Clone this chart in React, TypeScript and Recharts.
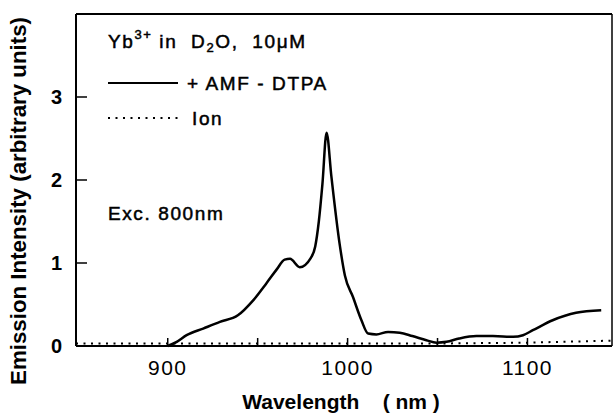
import React from 'react';
import { ComposedChart, Line, XAxis, YAxis, ReferenceLine, Customized } from 'recharts';

const wavelengthsComplex = [900, 905, 910.5, 919.7, 929, 939, 947.5, 955, 960.5, 965, 968, 973.4, 979.5, 982, 984, 986, 988.3, 991, 995.5, 998.5, 1003, 1007.7, 1011.4, 1016, 1022.5, 1029, 1036, 1043.8, 1049.4, 1055, 1062, 1071.6, 1080.8, 1092, 1097.5, 1103, 1114, 1127, 1141];
const intensityComplex = [0, 0.05, 0.13, 0.21, 0.29, 0.37, 0.55, 0.76, 0.92, 1.04, 1.05, 0.95, 1.06, 1.2, 1.5, 1.95, 2.57, 2.04, 1.24, 0.85, 0.59, 0.31, 0.15, 0.14, 0.17, 0.16, 0.12, 0.07, 0.04, 0.05, 0.09, 0.12, 0.12, 0.11, 0.13, 0.19, 0.31, 0.4, 0.43];

const wavelengthsIon = [849, 900, 950, 1000, 1050, 1100, 1147];
const intensityIon = [0.03, 0.03, 0.03, 0.03, 0.03, 0.04, 0.065];

const xTicks = [900, 950, 1000, 1050, 1100];
const xTickLabels: Record<number, string> = { 900: '900', 950: '', 1000: '1000', 1050: '', 1100: '1100' };
const yTicks = [0, 1, 2, 3];

const complexData = wavelengthsComplex.map((w, i) => ({ w, v: intensityComplex[i] }));
const ionData = wavelengthsIon.map((w, i) => ({ w, v: intensityIon[i] }));

const FONT = '"Liberation Sans", Arial, sans-serif';
const TXT = { fontSize: 19, letterSpacing: 1.6, whiteSpace: 'pre' as const };

const Annotations = () => (
  <g fontFamily={FONT} fill="#000" stroke="#000" strokeWidth={0.5}>
    <text x={108} y={48} style={TXT}>
      Yb<tspan dy={-9} fontSize={13}>3+</tspan>
      <tspan dy={9}>{' in  D'}</tspan>
      <tspan dy={4} fontSize={13}>2</tspan>
      <tspan dy={-4}>{'O,  10μM'}</tspan>
    </text>
    <line x1={108} y1={83} x2={178} y2={83} stroke="#000" strokeWidth={2} />
    <text x={187} y={90} style={TXT}>+ AMF - DTPA</text>
    <line x1={108} y1={118} x2={182} y2={118} stroke="#000" strokeWidth={2} strokeDasharray="2 5.5" />
    <text x={192} y={125} style={TXT}>Ion</text>
    <text x={108} y={220} style={TXT}>Exc. 800nm</text>
  </g>
);

export default function App() {
  return (
    <div style={{ width: 613, height: 420, background: '#fff' }}>
      <style>{'body{margin:0;}'}</style>
      <ComposedChart width={613} height={420} margin={{ top: 14, right: 1, bottom: 0, left: 0 }} style={{ fontFamily: FONT }}>
        <XAxis
          dataKey="w"
          type="number"
          domain={[849, 1147]}
          ticks={xTicks}
          tickFormatter={(v: number) => xTickLabels[v] ?? ''}
          allowDataOverflow
          height={74}
          axisLine={{ stroke: '#000', strokeWidth: 2 }}
          tickLine={{ stroke: '#000', strokeWidth: 1.5 }}
          tickSize={-8}
          tickMargin={22}
          tick={{ fill: '#000', fontSize: 21, letterSpacing: 1.5 }}
          label={{
            content: () => (
              <text x={341} y={409} textAnchor="middle" fontSize={21} fontWeight="bold" fill="#000" style={{ whiteSpace: 'pre' }} fontFamily={FONT}>
                {'Wavelength    ( nm )'}
              </text>
            ),
          }}
        />
        <YAxis
          type="number"
          domain={[0, 4]}
          ticks={yTicks}
          width={76}
          axisLine={{ stroke: '#000', strokeWidth: 2 }}
          tickLine={{ stroke: '#000', strokeWidth: 1.5 }}
          tickSize={-11}
          tickMargin={25}
          tick={{ fill: '#000', fontSize: 20, fontWeight: 'bold' }}
          label={{
            content: () => (
              <text x={26} y={201} transform="rotate(-90, 26, 201)" textAnchor="middle" fontSize={22.3} fontWeight="bold" fill="#000" fontFamily={FONT}>
                Emission Intensity (arbitrary units)
              </text>
            ),
          }}
        />
        <ReferenceLine y={4} stroke="#000" strokeWidth={2} />
        <ReferenceLine x={1147} stroke="#000" strokeWidth={1.5} />
        <Line data={ionData} dataKey="v" type="linear" stroke="#000" strokeWidth={2} strokeDasharray="2 5.5" dot={false} isAnimationActive={false} />
        <Line data={complexData} dataKey="v" type="monotone" stroke="#000" strokeWidth={2.5} dot={false} isAnimationActive={false} />
        <Customized component={Annotations} />
      </ComposedChart>
    </div>
  );
}
